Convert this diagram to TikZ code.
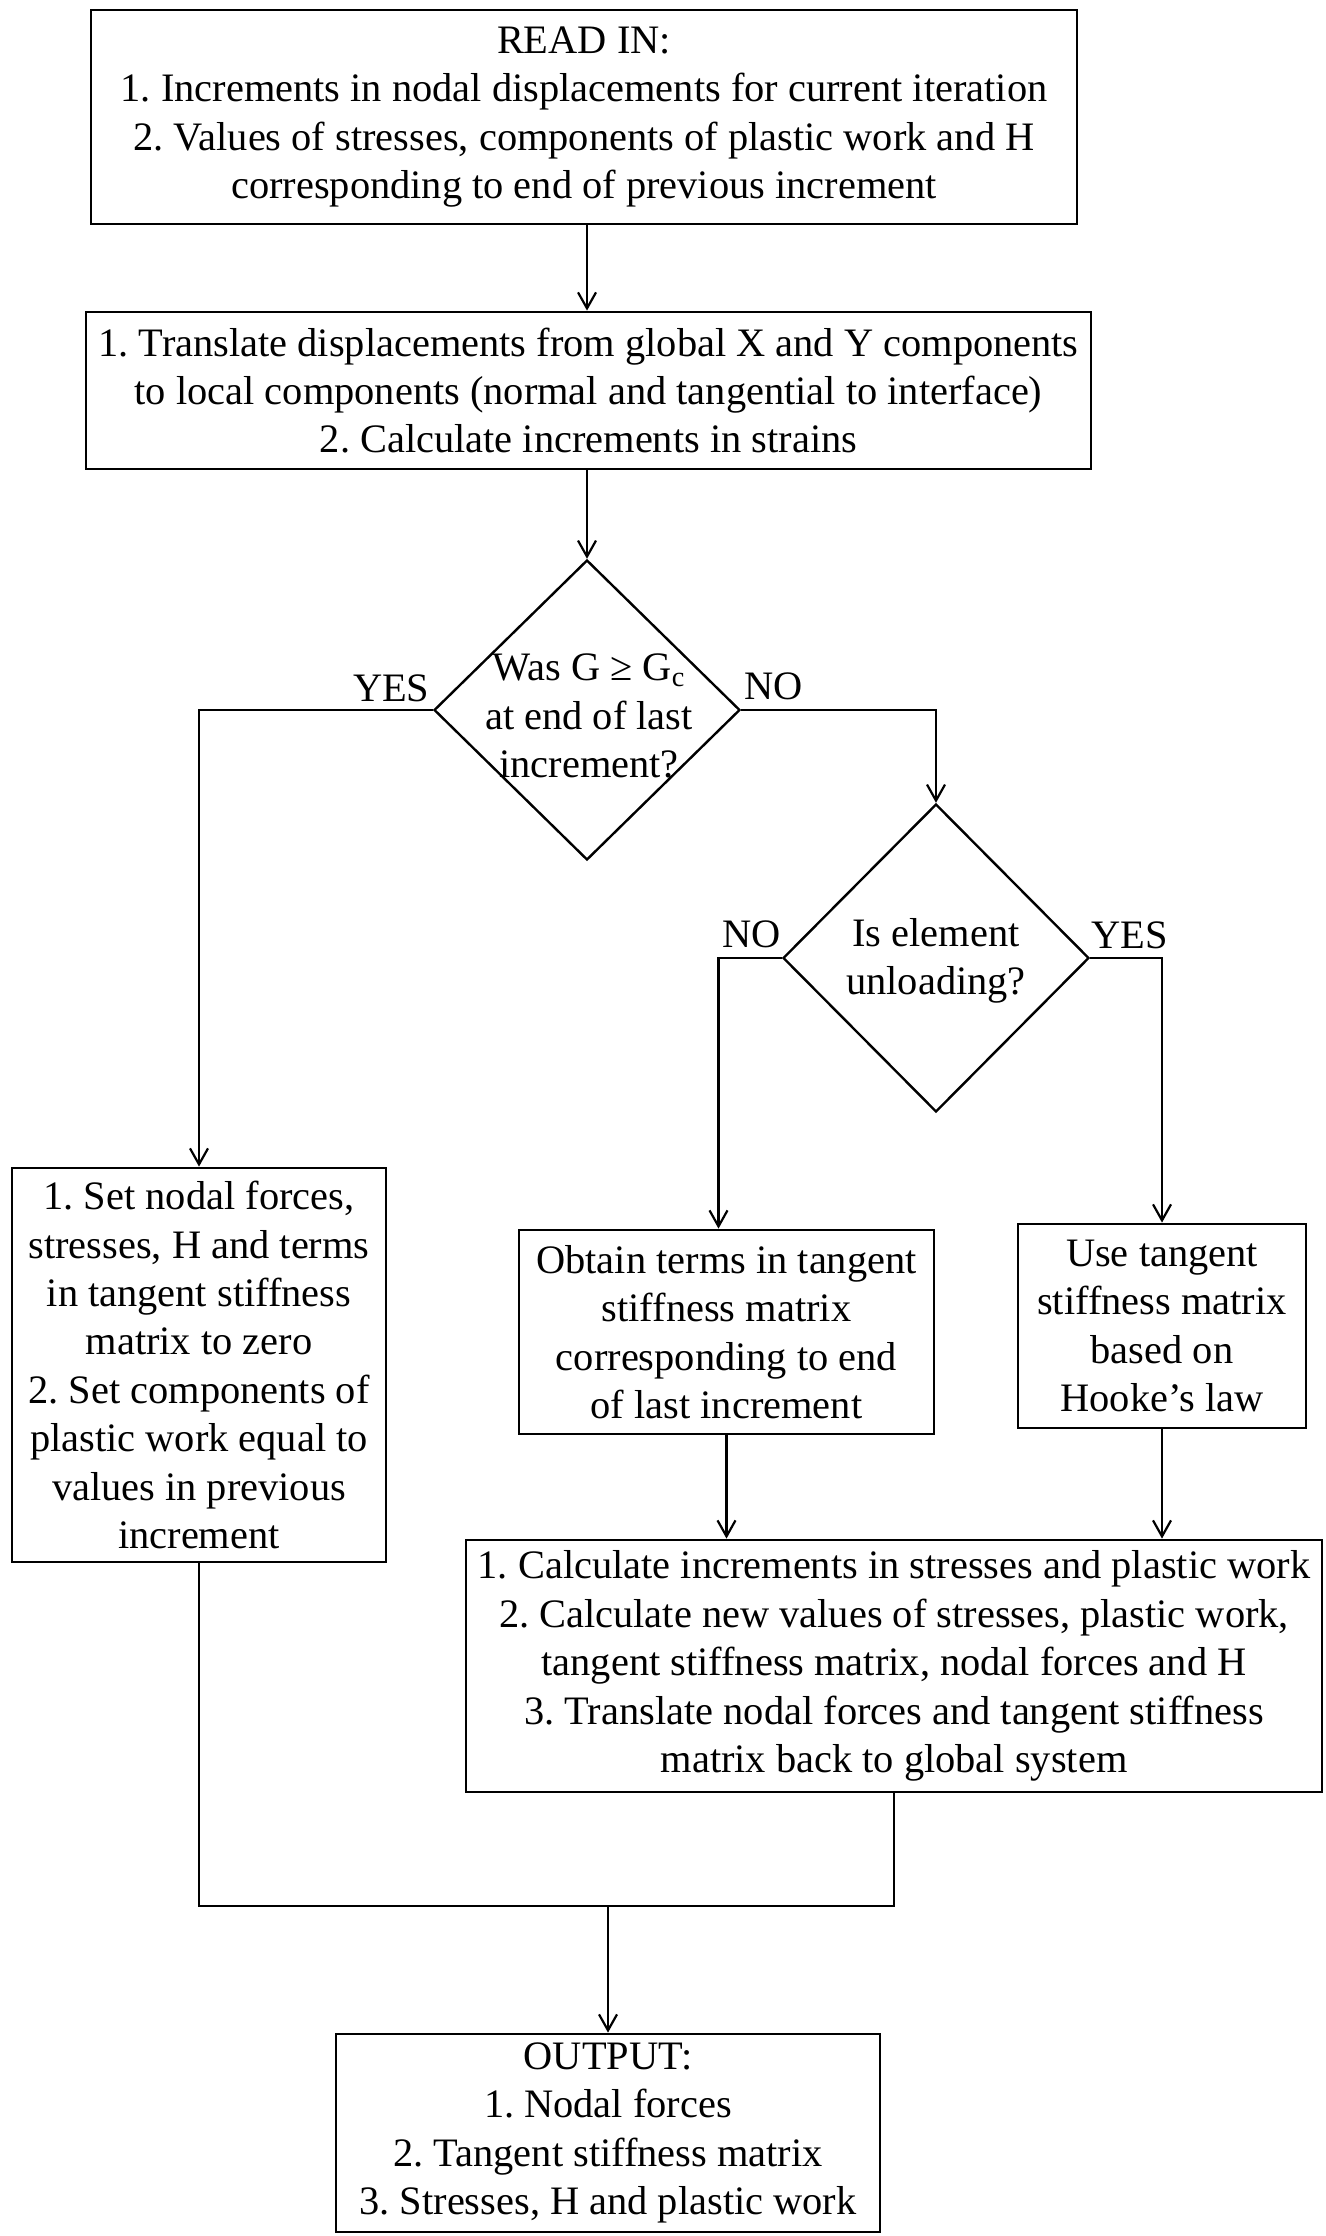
\documentclass[tikz,border=0pt]{standalone}
\usepackage{fontspec}
\setmainfont{Liberation Serif}
\usetikzlibrary{shapes.geometric,arrows.meta}

\begin{document}
\frenchspacing
\begin{tikzpicture}[x=0.5pt,y=-0.5pt,
  every node/.style={font=\fontsize{20.2}{24.2}\selectfont},
  box/.style={draw, line width=1.4pt, rectangle, inner sep=0pt, align=center},
  decision/.style={draw, line width=1.2pt, diamond, inner sep=0pt},
  plain/.style={inner sep=0pt, align=center},
  conn/.style={line width=1.1pt},
  arr/.style={conn, -{Straight Barb[length=8pt,width=9pt,line width=1.1pt]}},
  lbl/.style={inner sep=0pt}]

\useasboundingbox (0,0) rectangle (1326,2236);

% process boxes
\node[box, minimum width=493pt, minimum height=107pt] (b1) at (584,117)
  {READ IN:\\
   1. Increments in nodal displacements for current iteration\\
   2. Values of stresses, components of plastic work and H\\
   corresponding to end of previous increment};

\node[box, minimum width=502.5pt, minimum height=78.5pt] (b2) at (588.5,390.5)
  {1. Translate displacements from global X and Y components\\
   to local components (normal and tangential to interface)\\
   2. Calculate increments in strains};

% decisions
\node[decision, minimum width=153pt, minimum height=150pt] (d1) at (587,710) {};
\node[plain] (d1t) at (589,716) {Was G ≥ G\textsubscript{c}\\ at end of last\\ increment?};

\node[decision, minimum width=153pt, minimum height=154pt] (d2) at (936,958) {};
\node[plain] (d2t) at (936,961) {Is element\\ unloading?};

% branch boxes
\node[box, minimum width=187pt, minimum height=197pt] (lb) at (199,1365)
  {1. Set nodal forces,\\
   stresses, H and terms\\
   in tangent stiffness\\
   matrix to zero\\
   2. Set components of\\
   plastic work equal to\\
   values in previous\\
   increment};

\node[box, minimum width=207.5pt, minimum height=102pt] (mb) at (726.5,1332)
  {Obtain terms in tangent\\
   stiffness matrix\\
   corresponding to end\\
   of last increment};

\node[box, minimum width=144pt, minimum height=102pt] (rb) at (1162,1326)
  {Use tangent\\
   stiffness matrix\\
   based on\\
   Hooke’s law};

\node[box, minimum width=428pt, minimum height=126pt] (cb) at (894,1666)
  {1. Calculate increments in stresses and plastic work\\
   2. Calculate new values of stresses, plastic work,\\
   tangent stiffness matrix, nodal forces and H\\
   3. Translate nodal forces and tangent stiffness\\
   matrix back to global system};

\node[box, minimum width=272pt, minimum height=99pt] (ob) at (608,2133)
  {OUTPUT:\\
   1. Nodal forces\\
   2. Tangent stiffness matrix\\
   3. Stresses, H and plastic work};

% branch labels
\node[lbl, anchor=base east] (y1) at ([shift={(-3,-9)}]d1.west) {YES};
\node[lbl, anchor=base west] (n1) at ([shift={(3,-11)}]d1.east) {NO};
\node[lbl, anchor=base east] (n2) at ([shift={(-1,-11)}]d2.west) {NO};
\node[lbl, anchor=base west] (y2) at ([shift={(1,-10)}]d2.east) {YES};

% connectors
\draw[arr] (b1.south -| d1.north) -- (b2.north -| d1.north);
\draw[arr] (b2.south -| d1.north) -- (d1.north);
\draw[arr] (d1.west) -| (lb.north);
\draw[arr] (d1.east) -| (d2.north);
\draw[arr] (d2.west) -| ([xshift=-4pt]mb.north);
\draw[arr] (d2.east) -| (rb.north);
\draw[arr] (mb.south) -- (mb.south |- cb.north);
\draw[arr] (rb.south) -- (rb.south |- cb.north);

\coordinate (j) at (608,1906);
\draw[conn] (lb.south) |- (j) -| (cb.south);
\draw[arr] (j) -- (ob.north);

\end{tikzpicture}
\end{document}
